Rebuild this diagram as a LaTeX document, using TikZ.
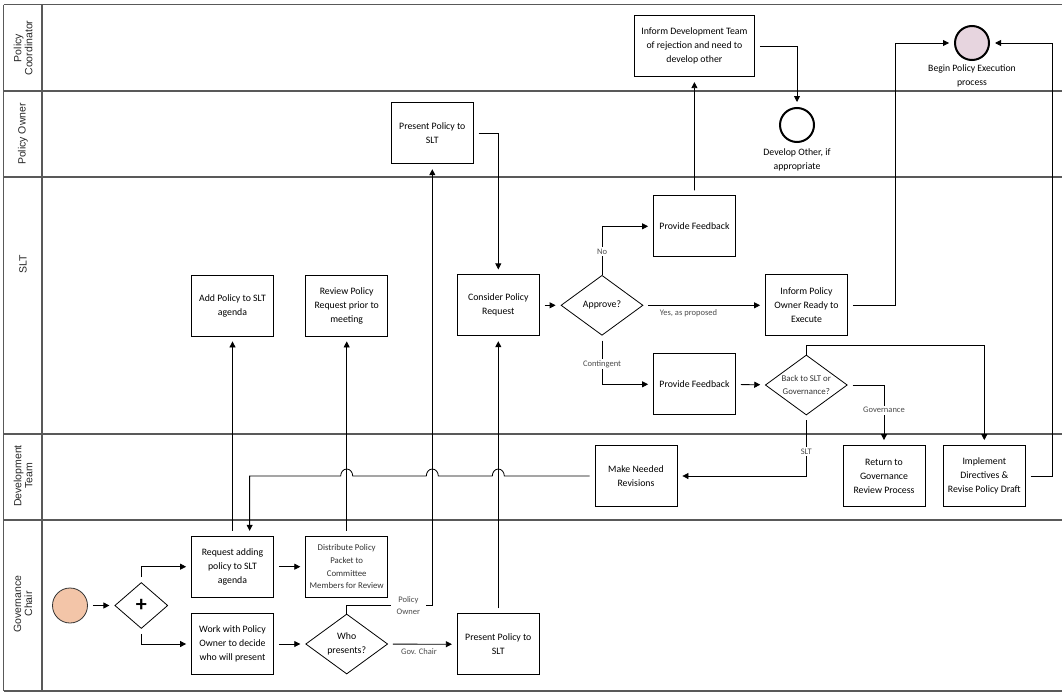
\documentclass[tikz,border=0pt]{standalone}
\usepackage{fontspec}
\setmainfont{Carlito}
\newfontfamily\lanefont{Liberation Sans}
\usepackage{tikz}
\usetikzlibrary{shapes.geometric,arrows.meta,positioning}
\definecolor{peach}{RGB}{243,197,168}
\definecolor{mauve}{RGB}{231,213,223}

\begin{document}
\begin{tikzpicture}[x = 1pt, y = -1pt,
  task/.style = {draw, line width = 0.8pt, shape = rectangle, minimum width = 82pt, minimum height = 61pt, align = center, inner sep = 1pt, font = \fontsize{9.8}{14}\selectfont},
  gate/.style = {draw, line width = 0.8pt, shape = diamond, aspect = 1.37, minimum width = 82pt, minimum height = 60pt, inner sep = 0pt, align = center, font = \fontsize{9.8}{14}\selectfont},
  event/.style = {draw, shape = circle, minimum size = 34pt, inner sep = 0pt},
  flow/.style = {line width = 0.8pt, -{Triangle[length = 6pt, width = 6pt]}, shorten <= 5pt, shorten >= 5pt},
  cond/.style = {font = \fontsize{8.5}{12.5}\selectfont, text = black!70, inner sep = 1.5pt, align = center},
  lane/.style = {draw = black!65, line width = 1.2pt},
  lanename/.style = {rotate = 90, align = center, text = black!85, font = \lanefont\fontsize{10.5}{11}\selectfont}]
\useasboundingbox (0,0) rectangle (1062,696);
\draw[lane] (3.5,4.5) -- (1062,4.5) (3.5,91) -- (1062,91) (3.5,177) -- (1062,177) (3.5,434) -- (1062,434) (3.5,520) -- (1062,520) (3.5,691) -- (1062,691);
\draw[lane] (3.5,4.5) -- (3.5,691) (42,4.5) -- (42,691);
\node[lanename] (31) at (23,48) {Policy\\Coordinator};
\node[lanename] (32) at (23,134) {Policy Owner};
\node[lanename] (33) at (23,264) {SLT};
\node[lanename] (34) at (23,476) {Development\\Team};
\node[lanename] (35) at (23,604) {Governance\\Chair};

\node[event, fill = peach, draw = black!80, line width = 0.8pt, minimum size = 35pt] (1) at (70,605.5) {};
\node[gate, minimum width = 53pt, minimum height = 46pt, font = \fontsize{22}{22}\selectfont\bfseries] (2) at (141.3,605.5) {+};
\node[task] (3) at (232.5,566.7) {Request adding\\policy to SLT\\agenda};
\node[task] (4) at (232.5,644) {Work with Policy\\Owner to decide\\who will present};
\node[task, font = \fontsize{8.8}{12.8}\selectfont, text = black!80] (5) at (346.7,566.7) {Distribute Policy\\Packet to\\Committee\\Members for Review};
\node[gate] (6) at (346.7,644) {Who\\presents?};
\node[task] (7) at (498.3,644.3) {Present Policy to\\SLT};
\node[task] (8) at (232.5,305.5) {Add Policy to SLT\\agenda};
\node[task] (9) at (346.7,305.5) {Review Policy\\Request prior to\\meeting};
\node[task] (10) at (498.3,305.3) {Consider Policy\\Request};
\node[task] (11) at (432.3,133.3) {Present Policy to\\SLT};
\node[gate] (12) at (602,305.3) {Approve?};
\node[task] (13) at (694.5,226.3) {Provide Feedback};
\node[task, minimum width = 120pt] (14) at (694.4,46.2) {Inform Development Team\\of rejection and need to\\develop other};
\node[event, line width = 2pt] (15) at (797,125) {};
\node[font = \fontsize{9.8}{14}\selectfont, align = center, inner sep = 1pt, below = 4pt of 15] (16) {Develop Other, if\\appropriate};
\node[task] (17) at (806.5,305.3) {Inform Policy\\Owner Ready to\\Execute};
\node[task] (18) at (694.5,384.3) {Provide Feedback};
\node[gate, font = \fontsize{8.8}{13}\selectfont, text = black!80] (19) at (806.3,385) {Back to SLT or\\Governance?};
\node[task] (20) at (636,476) {Make Needed\\Revisions};
\node[task] (21) at (884,476) {Return to\\Governance\\Review Process};
\node[task] (22) at (984.3,476) {Implement\\Directives \&\\Revise Policy Draft};
\node[event, fill = mauve, line width = 2pt] (23) at (972,43) {};
\node[font = \fontsize{9.7}{13.5}\selectfont, align = center, inner sep = 1pt, below = 3pt of 23] (24) {Begin Policy Execution\\process};

\draw[flow] (1) -- (2);
\draw[flow] (2.north) |- (3.west);
\draw[flow] (2.south) |- (4.west);
\draw[flow] (3) -- (5);
\draw[flow] (4) -- (6);
\draw[flow] (6) -- node[cond, below = 3pt, pos = 0.45] (41) {Gov. Chair} (7);
\draw[flow, shorten <= 0pt] (6.north) -- ++(0,-8) -| node[cond, fill = white, inner xsep = 6pt, pos = 0.36] (42) {Policy\\Owner} (11.south);
\draw[flow] (7) -- (10);
\draw[flow] (11.east) -| (10.north);
\draw[flow] (3.north) -- (8.south);
\draw[flow] (5.north) -- (9.south);
\draw[flow] (10) -- (12);
\draw[flow, shorten <= 0pt] (12.north) |- node[cond, fill = white, pos = 0.24] (43) {No} (13.west);
\draw[flow] (12) -- node[cond, below = 2pt, pos = 0.37] (44) {Yes, as proposed} (17);
\draw[flow] (12.south) |- node[cond, fill = white, pos = 0.29] (45) {Contingent} (18.west);
\draw[flow] (13.north) -- (14.south);
\draw[flow] (14.east) -| (15.north);
\draw[flow] (17.east) -- ++(47,0) |- (23.west);
\draw[flow] (18) -- (19);
\draw[flow, shorten <= 0pt] (19.north) -- ++(0,-9) -| (22.north);
\draw[flow] (19.east) -| node[cond, fill = white, pos = 0.71] (46) {Governance} (21.north);
\draw[flow] (19.south) |- node[cond, fill = white, pos = 0.30] (47) {SLT} (20.east);
\draw[flow] (22.east) -- ++(27,0) |- (23.east);
\draw[flow] (20.west) -- (504.3,476) arc[start angle = 0, end angle = 180, x radius = 6pt, y radius = 7pt] -- (438.3,476) arc[start angle = 0, end angle = 180, x radius = 6pt, y radius = 7pt] -- (352.7,476) arc[start angle = 0, end angle = 180, x radius = 6pt, y radius = 7pt] -| (3.61);
\end{tikzpicture}
\end{document}
